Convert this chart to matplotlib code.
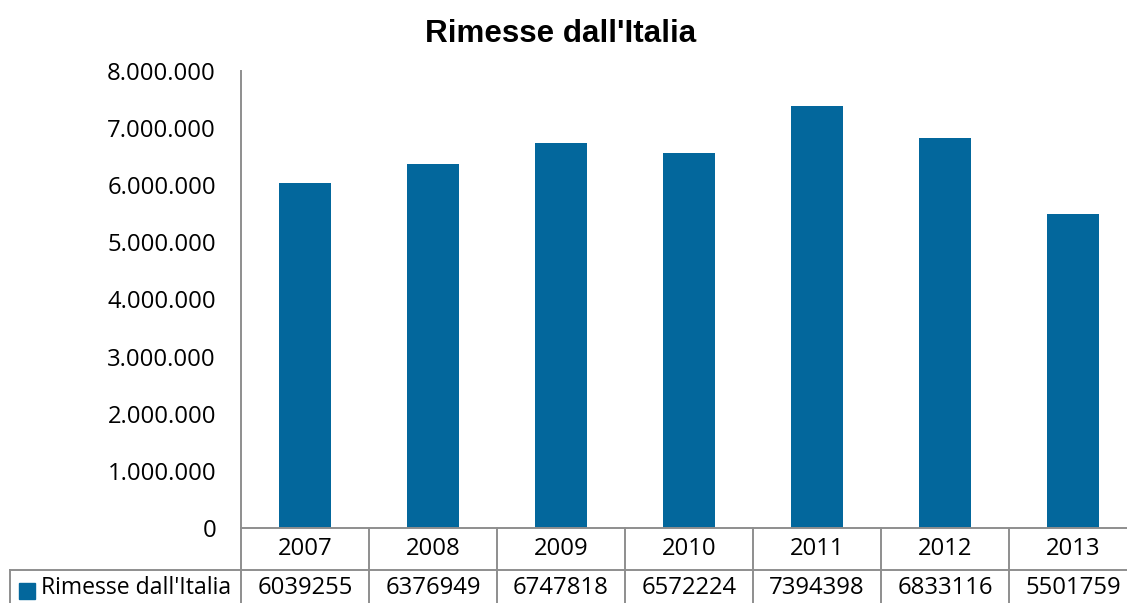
import matplotlib
matplotlib.use("Agg")
import matplotlib.pyplot as plt
from matplotlib.lines import Line2D
from matplotlib.patches import Rectangle
from matplotlib.ticker import FuncFormatter
import matplotlib.transforms as mtransforms

years = ["2007", "2008", "2009", "2010", "2011", "2012", "2013"]
rimesse = [6039255, 6376949, 6747818, 6572224, 7394398, 6833116, 5501759]
series_name = "Rimesse dall'Italia"
title = "Rimesse dall'Italia"

BAR = "#03679c"
GRID = "#8e8e8e"
FONT = "Open Sans"
FS = 17.2

W, H = 1127, 603
fig = plt.figure(figsize=(W / 100, H / 100), dpi=100)

# plot area in pixel coordinates (left, top, right, bottom)
px_left, px_top, px_right, px_bottom = 241, 71, 1137, 528
ax = fig.add_axes([px_left / W, 1 - px_bottom / H,
                   (px_right - px_left) / W, (px_bottom - px_top) / H])

x = list(range(len(years)))
ax.bar(x, rimesse, width=0.41, color=BAR, zorder=2)
ax.set_xlim(-0.5, len(years) - 0.5)
ax.set_ylim(0, 8_000_000)
ax.set_yticks(range(0, 8_000_001, 1_000_000))
ax.yaxis.set_major_formatter(FuncFormatter(lambda v, p: f"{int(v):,}".replace(",", ".")))
ax.tick_params(axis="y", length=0, pad=18, labelsize=FS)
for lab in ax.get_yticklabels():
    lab.set_fontfamily(FONT)
ax.set_xticks([])
for s in ("top", "right"):
    ax.spines[s].set_visible(False)
ax.spines["left"].set_color(GRID)
ax.spines["bottom"].set_color(GRID)
ax.spines["left"].set_linewidth(1.4)
ax.spines["bottom"].set_linewidth(1.4)

fig.text(561 / W, 1 - 42 / H, title, ha="center", va="baseline",
         fontsize=22.6, fontweight="bold", family="Liberation Sans")

# data table below the axis
bt = mtransforms.blended_transform_factory(ax.transData, fig.transFigure)
y_axis = 1 - px_bottom / H
y_row = 1 - 570 / H
y_end = -0.05
lw = 1.4
for k in range(len(years) + 1):
    xb = k - 0.5
    fig.add_artist(Line2D([xb, xb], [y_axis, y_end], transform=bt,
                          color=GRID, lw=lw, clip_on=False))
fig.add_artist(Line2D([10 / W, 1.1], [y_row, y_row], transform=fig.transFigure,
                      color=GRID, lw=lw))
fig.add_artist(Line2D([10 / W, 10 / W], [y_row, y_end], transform=fig.transFigure,
                      color=GRID, lw=lw))

for i, (yr, v) in enumerate(zip(years, rimesse)):
    fig.text(i, 1 - 549 / H, yr, transform=bt, ha="center", va="center",
             fontsize=FS, family=FONT)
    fig.text(i, 1 - 588 / H, str(v), transform=bt, ha="center", va="center",
             fontsize=FS, family=FONT)

# legend key of the series row
fig.add_artist(Rectangle((19 / W, 1 - 599 / H), 16 / W, 16 / H,
                         transform=fig.transFigure, color=BAR))
fig.text(41 / W, 1 - 588 / H, series_name, ha="left", va="center",
         fontsize=16.6, family=FONT)

fig.savefig("out.png", dpi=100)
